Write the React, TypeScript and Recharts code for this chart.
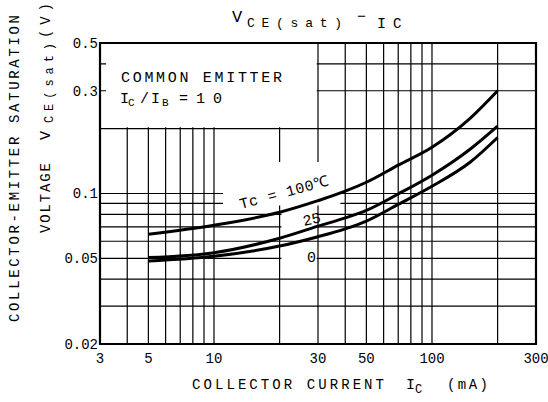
import React from 'react';
import { LineChart, Line, XAxis, YAxis, CartesianGrid, ReferenceArea } from 'recharts';

const xTicks = [3, 5, 10, 30, 50, 100, 300];
const yTicks = [0.02, 0.05, 0.1, 0.3, 0.5];
const xGrid = [4, 5, 6, 7, 8, 9, 10, 20, 30, 40, 50, 60, 70, 80, 90, 100, 200];
const yGrid = [0.03, 0.04, 0.05, 0.06, 0.07, 0.08, 0.09, 0.1, 0.2, 0.3, 0.4];

const icValues = [5, 10, 20, 30, 40, 50, 70, 100, 150, 200];
const vce100 = [0.0647, 0.0712, 0.0818, 0.0926, 0.1025, 0.1128, 0.1354, 0.164, 0.224, 0.3];
const vce25 = [0.0504, 0.0531, 0.062, 0.0705, 0.077, 0.0835, 0.0995, 0.1216, 0.161, 0.2056];
const vce0 = [0.0486, 0.0511, 0.057, 0.063, 0.0685, 0.0745, 0.089, 0.108, 0.14, 0.182];

const data = icValues.map((ic, i) => ({ ic, t100: vce100[i], t25: vce25[i], t0: vce0[i] }));

const FONT = '"Liberation Mono", "DejaVu Sans Mono", monospace';
const tickStyle = { fill: '#000', fontSize: 14, fontFamily: FONT };

export default function App() {
  return (
    <div style={{ position: 'absolute', left: 0, top: 0, width: 548, height: 402, background: '#fff' }}>
      <LineChart width={548} height={402} data={data} margin={{ top: 43, right: 12, bottom: 0, left: 0 }}>
        <CartesianGrid
          stroke="#000"
          strokeWidth={1.2}
          strokeDasharray=""
          horizontalValues={yGrid}
          verticalValues={xGrid}
        />
        <XAxis
          dataKey="ic"
          type="number"
          scale="log"
          domain={[3, 300]}
          ticks={xTicks}
          allowDataOverflow
          axisLine={false}
          tickLine={false}
          tickSize={0}
          tickMargin={9}
          height={58}
          tick={tickStyle}
          interval={0}
        />
        <YAxis
          type="number"
          scale="log"
          domain={[0.02, 0.5]}
          ticks={yTicks}
          allowDataOverflow
          axisLine={false}
          tickLine={false}
          tickSize={0}
          tickMargin={2}
          width={100}
          tick={tickStyle}
          interval={0}
        />
        <ReferenceArea x1={3.2} x2={29.6} y1={0.203} y2={0.5} fill="#fff" fillOpacity={1} stroke="none" />
        <ReferenceArea x1={11} x2={38} y1={0.088} y2={0.14} fill="#fff" fillOpacity={1} stroke="none" />
        <ReferenceArea x1={20.4} x2={29.6} y1={0.064} y2={0.088} fill="#fff" fillOpacity={1} stroke="none" />
        <ReferenceArea x1={20.4} x2={29.6} y1={0.044} y2={0.059} fill="#fff" fillOpacity={1} stroke="none" />
        <ReferenceArea x1={3} x2={300} y1={0.02} y2={0.5} fill="none" stroke="#000" strokeWidth={2.2} />
        <Line type="monotone" dataKey="t100" stroke="#000" strokeWidth={3} dot={false} isAnimationActive={false} />
        <Line type="monotone" dataKey="t25" stroke="#000" strokeWidth={3} dot={false} isAnimationActive={false} />
        <Line type="monotone" dataKey="t0" stroke="#000" strokeWidth={3} dot={false} isAnimationActive={false} />
      </LineChart>
      <svg
        width={548}
        height={402}
        style={{ position: 'absolute', left: 0, top: 0, pointerEvents: 'none' }}
        fontFamily={FONT}
        fill="#000"
      >
        {/* Title */}
        <text x={232} y={22} fontSize={17}>V</text>
        <text x={247} y={27} fontSize={13} textLength={95} lengthAdjust="spacing">CE(sat)</text>
        <text x={357} y={21} fontSize={15}>−</text>
        <text x={377} y={28} fontSize={15}>I</text>
        <text x={393} y={28} fontSize={14}>C</text>

        {/* Legend box text */}
        <text x={121} y={82} fontSize={15} textLength={161} lengthAdjust="spacing">COMMON EMITTER</text>
        <text x={120} y={103} fontSize={15}>I</text>
        <text x={128} y={106} fontSize={11}>C</text>
        <text x={140} y={103} fontSize={15}>/</text>
        <text x={151} y={103} fontSize={15}>I</text>
        <text x={162} y={106} fontSize={11}>B</text>
        <text x={179} y={103} fontSize={15} textLength={43} lengthAdjust="spacing">=10</text>

        {/* Curve labels */}
        <text x={241} y={209} fontSize={15} textLength={92} lengthAdjust="spacing" transform="rotate(-15, 241, 209)">Tc = 100℃</text>
        <text x={304} y={226} fontSize={15} transform="rotate(-13, 304, 226)">25</text>
        <text x={307} y={262} fontSize={15}>0</text>

        {/* Y axis title */}
        <g transform="translate(19, 322) rotate(-90)">
          <text x={0} y={0} fontSize={14} textLength={307} lengthAdjust="spacing">COLLECTOR-EMITTER SATURATION</text>
        </g>
        <g transform="translate(50, 233) rotate(-90)">
          <text x={0} y={0} fontSize={14} textLength={70} lengthAdjust="spacing">VOLTAGE</text>
          <text x={93} y={0} fontSize={15}>V</text>
          <text x={110} y={3} fontSize={12} textLength={80} lengthAdjust="spacing">CE(sat)</text>
          <text x={195} y={0} fontSize={14} textLength={35} lengthAdjust="spacing">(V)</text>
        </g>

        {/* X axis title */}
        <text x={192} y={389} fontSize={14} textLength={192} lengthAdjust="spacing">COLLECTOR CURRENT</text>
        <text x={406} y={389} fontSize={15}>I</text>
        <text x={415} y={393} fontSize={12}>C</text>
        <text x={447} y={389} fontSize={14} textLength={41} lengthAdjust="spacing">(mA)</text>
      </svg>
    </div>
  );
}
